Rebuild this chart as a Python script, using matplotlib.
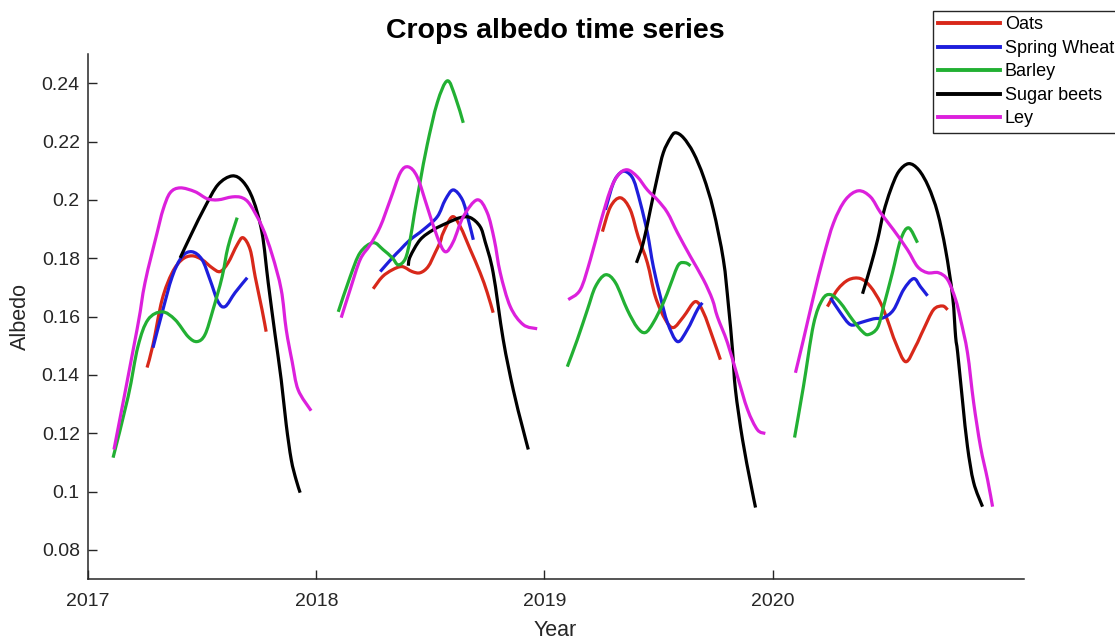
import matplotlib
matplotlib.use("Agg")
import matplotlib.pyplot as plt
from matplotlib.path import Path
from matplotlib.patches import PathPatch
from matplotlib.lines import Line2D

plt.rcParams['font.family'] = ['Liberation Sans', 'DejaVu Sans']

# ---- data (decimal year, albedo), one list per growing season ----
crops = ["Oats", "Spring Wheat", "Barley", "Sugar beets", "Ley"]
colors = ["#D8281A", "#1E1EDC", "#22B033", "#000000", "#DC20DC"]

oats_t = [
    [2017.258, 2017.284, 2017.324, 2017.368, 2017.411, 2017.455, 2017.499, 2017.543, 2017.578, 2017.613, 2017.653, 2017.679, 2017.710, 2017.732, 2017.762, 2017.780],
    [2018.249, 2018.289, 2018.333, 2018.376, 2018.420, 2018.455, 2018.490, 2018.521, 2018.543, 2018.556, 2018.596, 2018.631, 2018.675, 2018.718, 2018.749, 2018.775],
    [2019.254, 2019.289, 2019.333, 2019.376, 2019.411, 2019.451, 2019.486, 2019.530, 2019.565, 2019.609, 2019.661, 2019.697, 2019.736, 2019.771],
    [2020.240, 2020.284, 2020.333, 2020.385, 2020.429, 2020.473, 2020.504, 2020.539, 2020.583, 2020.626, 2020.661, 2020.705, 2020.745, 2020.767],
]
oats_a = [
    [0.1425, 0.1503, 0.1658, 0.1750, 0.1795, 0.1808, 0.1795, 0.1767, 0.1754, 0.1784, 0.1846, 0.1870, 0.1829, 0.1736, 0.1623, 0.1548],
    [0.1695, 0.1736, 0.1760, 0.1771, 0.1754, 0.1750, 0.1771, 0.1819, 0.1856, 0.1887, 0.1942, 0.1908, 0.1829, 0.1750, 0.1682, 0.1613],
    [0.1891, 0.1976, 0.2007, 0.1966, 0.1873, 0.1784, 0.1668, 0.1589, 0.1562, 0.1599, 0.1651, 0.1613, 0.1531, 0.1452],
    [0.1634, 0.1692, 0.1726, 0.1730, 0.1702, 0.1647, 0.1586, 0.1510, 0.1445, 0.1497, 0.1555, 0.1623, 0.1636, 0.1623],
]

wheat_t = [
    [2017.284, 2017.324, 2017.368, 2017.411, 2017.455, 2017.499, 2017.534, 2017.569, 2017.600, 2017.644, 2017.697],
    [2018.280, 2018.333, 2018.368, 2018.411, 2018.468, 2018.530, 2018.565, 2018.600, 2018.640, 2018.666, 2018.688],
    [2019.267, 2019.302, 2019.333, 2019.359, 2019.390, 2019.420, 2019.451, 2019.477, 2019.508, 2019.539, 2019.583, 2019.626, 2019.670, 2019.692],
    [2020.254, 2020.297, 2020.341, 2020.385, 2020.442, 2020.486, 2020.530, 2020.574, 2020.618, 2020.648, 2020.679],
]
wheat_a = [
    [0.1493, 0.1613, 0.1736, 0.1805, 0.1822, 0.1795, 0.1726, 0.1651, 0.1634, 0.1682, 0.1733],
    [0.1754, 0.1801, 0.1829, 0.1863, 0.1897, 0.1942, 0.2000, 0.2034, 0.2000, 0.1932, 0.1863],
    [0.1966, 0.2058, 0.2093, 0.2096, 0.2069, 0.1990, 0.1887, 0.1771, 0.1668, 0.1579, 0.1514, 0.1555, 0.1623, 0.1647],
    [0.1664, 0.1613, 0.1572, 0.1579, 0.1592, 0.1596, 0.1623, 0.1692, 0.1730, 0.1702, 0.1671],
]

barley_t = [
    [2017.109, 2017.175, 2017.218, 2017.262, 2017.324, 2017.381, 2017.438, 2017.477, 2017.512, 2017.547, 2017.587, 2017.613, 2017.653],
    [2018.096, 2018.148, 2018.192, 2018.249, 2018.293, 2018.333, 2018.359, 2018.390, 2018.411, 2018.429, 2018.455, 2018.486, 2018.530, 2018.574, 2018.609, 2018.644],
    [2019.100, 2019.144, 2019.188, 2019.223, 2019.267, 2019.311, 2019.363, 2019.407, 2019.442, 2019.477, 2019.521, 2019.552, 2019.587, 2019.618, 2019.640],
    [2020.096, 2020.135, 2020.179, 2020.218, 2020.254, 2020.297, 2020.350, 2020.394, 2020.420, 2020.460, 2020.486, 2020.525, 2020.561, 2020.596, 2020.635],
]
barley_a = [
    [0.1116, 0.1325, 0.1497, 0.1589, 0.1616, 0.1589, 0.1531, 0.1514, 0.1538, 0.1623, 0.1736, 0.1839, 0.1939],
    [0.1616, 0.1736, 0.1819, 0.1853, 0.1829, 0.1801, 0.1777, 0.1798, 0.1863, 0.1949, 0.2062, 0.2189, 0.2333, 0.2408, 0.2353, 0.2264],
    [0.1428, 0.1521, 0.1623, 0.1702, 0.1743, 0.1716, 0.1623, 0.1562, 0.1545, 0.1579, 0.1647, 0.1709, 0.1777, 0.1784, 0.1774],
    [0.1185, 0.1360, 0.1572, 0.1658, 0.1675, 0.1647, 0.1589, 0.1548, 0.1538, 0.1562, 0.1634, 0.1750, 0.1863, 0.1904, 0.1853],
]

beets_t = [
    [2017.403, 2017.455, 2017.512, 2017.569, 2017.631, 2017.679, 2017.723, 2017.762, 2017.789, 2017.819, 2017.846, 2017.868, 2017.890, 2017.911, 2017.929],
    [2018.403, 2018.411, 2018.455, 2018.512, 2018.574, 2018.631, 2018.675, 2018.718, 2018.740, 2018.775, 2018.819, 2018.863, 2018.903, 2018.929],
    [2019.403, 2019.433, 2019.464, 2019.495, 2019.521, 2019.552, 2019.574, 2019.609, 2019.653, 2019.697, 2019.740, 2019.784, 2019.806, 2019.824, 2019.837, 2019.868, 2019.903, 2019.925],
    [2020.394, 2020.429, 2020.460, 2020.486, 2020.517, 2020.552, 2020.596, 2020.640, 2020.683, 2020.723, 2020.758, 2020.789, 2020.802, 2020.811, 2020.833, 2020.854, 2020.881, 2020.920],
]
beets_a = [
    [0.1801, 0.1887, 0.1976, 0.2052, 0.2082, 0.2062, 0.2000, 0.1887, 0.1716, 0.1538, 0.1383, 0.1229, 0.1109, 0.1041, 0.0996],
    [0.1774, 0.1805, 0.1863, 0.1897, 0.1921, 0.1939, 0.1939, 0.1908, 0.1856, 0.1750, 0.1521, 0.1349, 0.1222, 0.1144],
    [0.1784, 0.1853, 0.1966, 0.2079, 0.2162, 0.2212, 0.2230, 0.2213, 0.2161, 0.2079, 0.1966, 0.1795, 0.1640, 0.1486, 0.1349, 0.1178, 0.1031, 0.0945],
    [0.1678, 0.1771, 0.1863, 0.1956, 0.2034, 0.2096, 0.2124, 0.2103, 0.2045, 0.1956, 0.1829, 0.1668, 0.1531, 0.1476, 0.1305, 0.1154, 0.1031, 0.0948],
]

ley_t = [
    [2017.113, 2017.214, 2017.249, 2017.302, 2017.328, 2017.359, 2017.403, 2017.468, 2017.521, 2017.569, 2017.631, 2017.675, 2017.710, 2017.762, 2017.806, 2017.846, 2017.868, 2017.894, 2017.920, 2017.977],
    [2018.109, 2018.148, 2018.192, 2018.236, 2018.280, 2018.324, 2018.368, 2018.403, 2018.442, 2018.486, 2018.530, 2018.565, 2018.600, 2018.644, 2018.705, 2018.749, 2018.780, 2018.806, 2018.850, 2018.907, 2018.968],
    [2019.104, 2019.157, 2019.201, 2019.245, 2019.289, 2019.324, 2019.363, 2019.407, 2019.451, 2019.495, 2019.539, 2019.583, 2019.640, 2019.697, 2019.736, 2019.758, 2019.802, 2019.846, 2019.890, 2019.933, 2019.968],
    [2020.100, 2020.135, 2020.179, 2020.223, 2020.267, 2020.319, 2020.376, 2020.429, 2020.473, 2020.530, 2020.591, 2020.635, 2020.679, 2020.727, 2020.767, 2020.802, 2020.824, 2020.854, 2020.881, 2020.911, 2020.942, 2020.964],
]
ley_a = [
    [0.1144, 0.1555, 0.1716, 0.1887, 0.1966, 0.2024, 0.2041, 0.2028, 0.2004, 0.2000, 0.2010, 0.2007, 0.1983, 0.1908, 0.1812, 0.1692, 0.1555, 0.1445, 0.1349, 0.1277],
    [0.1596, 0.1692, 0.1795, 0.1846, 0.1908, 0.2000, 0.2093, 0.2113, 0.2079, 0.1976, 0.1873, 0.1822, 0.1856, 0.1942, 0.2000, 0.1956, 0.1863, 0.1750, 0.1634, 0.1572, 0.1558],
    [0.1658, 0.1692, 0.1795, 0.1921, 0.2034, 0.2086, 0.2103, 0.2079, 0.2034, 0.2000, 0.1956, 0.1887, 0.1805, 0.1726, 0.1658, 0.1599, 0.1510, 0.1394, 0.1281, 0.1212, 0.1199],
    [0.1407, 0.1521, 0.1668, 0.1805, 0.1921, 0.2000, 0.2031, 0.2010, 0.1956, 0.1897, 0.1829, 0.1771, 0.1750, 0.1750, 0.1726, 0.1658, 0.1589, 0.1476, 0.1305, 0.1154, 0.1041, 0.0948],
]

x_ticks = [2017, 2018, 2019, 2020]
x_ticklabels = ["2017", "2018", "2019", "2020"]
y_ticks = [0.08, 0.10, 0.12, 0.14, 0.16, 0.18, 0.20, 0.22, 0.24]
y_ticklabels = ["0.08", "0.1", "0.12", "0.14", "0.16", "0.18", "0.2", "0.22", "0.24"]

series_t = [oats_t, wheat_t, barley_t, beets_t, ley_t]
series_a = [oats_a, wheat_a, barley_a, beets_a, ley_a]


def smooth_path(t, a):
    """Smooth curve through the given points (Catmull-Rom as cubic Beziers)."""
    pts = list(zip(t, a))
    n = len(pts)
    verts = [pts[0]]
    codes = [Path.MOVETO]
    for i in range(n - 1):
        p0 = pts[i - 1] if i > 0 else pts[i]
        p1 = pts[i]
        p2 = pts[i + 1]
        p3 = pts[i + 2] if i + 2 < n else pts[i + 1]
        c1 = (p1[0] + (p2[0] - p0[0]) / 6, p1[1] + (p2[1] - p0[1]) / 6)
        c2 = (p2[0] - (p3[0] - p1[0]) / 6, p2[1] - (p3[1] - p1[1]) / 6)
        verts += [c1, c2, p2]
        codes += [Path.CURVE4] * 3
    return Path(verts, codes)


# ---- figure ----
W, H = 1115, 641
fig = plt.figure(figsize=(W / 100, H / 100), dpi=100)
ax = fig.add_axes([88.2 / W, 1 - 579 / H, (1023.6 - 88.2) / W, (579 - 54) / H])

handles = []
for name, col, ts, As in zip(crops, colors, series_t, series_a):
    for t, a in zip(ts, As):
        ax.add_patch(PathPatch(smooth_path(t, a), fill=False, edgecolor=col,
                               lw=2.3, joinstyle='round', capstyle='butt'))
    handles.append(Line2D([], [], color=col, lw=2.8))

ax.set_xlim(2017, 2021.1)
ax.set_ylim(0.07, 0.25)
ax.set_xticks(x_ticks)
ax.set_xticklabels(x_ticklabels)
ax.set_yticks(y_ticks)
ax.set_yticklabels(y_ticklabels)

for s in ["top", "right"]:
    ax.spines[s].set_visible(False)
for s in ["left", "bottom"]:
    ax.spines[s].set_color("#262626")
    ax.spines[s].set_linewidth(1.1)

ax.tick_params(axis='both', direction='in', length=6.5, width=1.0,
               colors="#262626", labelsize=14, labelcolor="#262626")
ax.tick_params(axis='x', pad=10)
ax.tick_params(axis='y', pad=6)

fig.text(555 / W, 1 - 31 / H, "Crops albedo time series", ha='center', va='center',
         fontsize=20.5, fontweight='bold', color='black')
fig.text(555 / W, 1 - 631 / H, "Year", ha='center', va='center', fontsize=15.5, color="#262626")
fig.text(20 / W, 1 - 317 / H, "Albedo", ha='center', va='center', rotation=90,
         fontsize=15.5, color="#262626")

leg = fig.legend(handles=handles, labels=crops, loc='upper left',
                 bbox_to_anchor=(932.5 / W, 1 - 11 / H), borderaxespad=0,
                 fontsize=13, handlelength=3.45, handletextpad=0.25,
                 borderpad=0.3, labelspacing=0.36, frameon=True, fancybox=False)
leg.get_frame().set_edgecolor("#262626")
leg.get_frame().set_linewidth(1.0)
leg.get_frame().set_alpha(1)

fig.savefig("out.png", dpi=100)
